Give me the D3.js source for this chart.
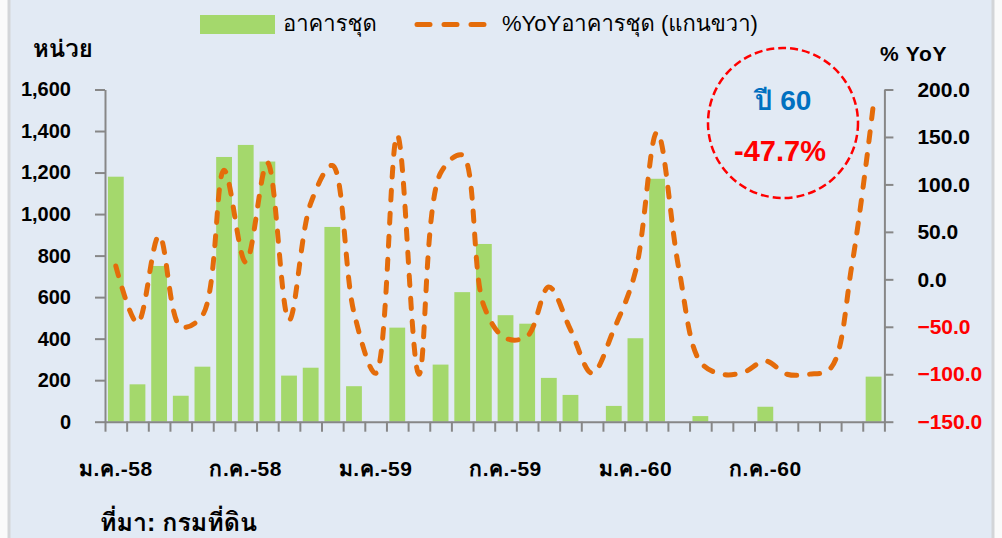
<!DOCTYPE html>
<html>
<head>
<meta charset="utf-8">
<script src="https://cdn.jsdelivr.net/npm/d3@7"></script>
<style>
  body { margin: 0; background: #fafafa; }
  svg { display: block; font-family: "Liberation Sans", Arial, Tahoma, Loma, Garuda, "Noto Sans Thai Looped", "Noto Sans Thai", "Noto Sans", sans-serif; }
</style>
</head>
<body>
<div id="graph"></div>
<script>
// categories: Jan-58 .. Dec-60
const monthNames = ['ม.ค.', 'ก.พ.', 'มี.ค.', 'เม.ย.', 'พ.ค.', 'มิ.ย.', 'ก.ค.', 'ส.ค.', 'ก.ย.', 'ต.ค.', 'พ.ย.', 'ธ.ค.'];
const years = ['58', '59', '60'];
const months = [];
years.forEach(y => monthNames.forEach(m => months.push(m + '-' + y)));

// units (left axis)
const units = [1180, 180, 750, 125, 265, 1275, 1333, 1253, 222, 260, 938, 171,
               0, 453, 0, 275, 624, 856, 513, 472, 211, 129, 0, 76,
               402, 1170, 0, 27, 0, 0, 72, 0, 0, 0, 0, 217];

// %YoY (right axis)
const yoy = [14, -46, 46, -50, -38, 115, 18, 123, -43, 80, 120, -35,
             -99, 152, -100, 112, 131, -28, -62, -60, -8, -53, -99, -53,
             8, 155, 12, -87, -100, -98, -86, -100, -100, -94, 15, 186];

const leftTicks = [0, 200, 400, 600, 800, 1000, 1200, 1400, 1600];
const rightTicks = [-150, -100, -50, 0, 50, 100, 150, 200];
const labelMonths = ['ม.ค.-58', 'ก.ค.-58', 'ม.ค.-59', 'ก.ค.-59', 'ม.ค.-60', 'ก.ค.-60'];

const W = 1002, H = 538;
const plotL = 105, plotR = 884.4, plotB = 421.7, plotT = 89.5;

const svg = d3.select('#graph').append('svg')
    .attr('width', W).attr('height', H);

// panel
svg.append('rect')
    .attr('x', 9).attr('y', -3).attr('width', 984).attr('height', 545)
    .attr('fill', '#e2eaf4').attr('stroke', '#d3d5d8').attr('stroke-width', 3);

const x = d3.scaleBand().domain(months).range([plotL, plotR])
    .paddingInner(0.27).paddingOuter(0.135);
const xEdge = d3.scaleLinear().domain([0, months.length]).range([plotL, plotR]);
const yL = d3.scaleLinear().domain([0, 1600]).range([plotB, plotT]);
const yR = d3.scaleLinear().domain([-150, 200]).range([plotB, plotT]);

// bars
svg.append('g').selectAll('rect').data(units.map((v, i) => ({m: months[i], v})))
    .enter().append('rect')
    .attr('x', d => x(d.m))
    .attr('y', d => yL(d.v))
    .attr('width', x.bandwidth())
    .attr('height', d => plotB - yL(d.v))
    .attr('fill', '#a4d86c');

// axes
const axisColor = '#878787';
const leftAxis = svg.append('g').attr('transform', `translate(${plotL},0)`)
    .call(d3.axisLeft(yL).tickValues(leftTicks).tickSize(10).tickSizeOuter(0)
        .tickPadding(24).tickFormat(d3.format(',')));

const rightAxis = svg.append('g').attr('transform', `translate(${plotR},0)`)
    .call(d3.axisRight(yR).tickValues(rightTicks).tickSize(9).tickSizeOuter(0)
        .tickPadding(24).tickFormat(d3.format('.1f')));

const bottomAxis = svg.append('g').attr('transform', `translate(0,${plotB})`)
    .call(d3.axisBottom(xEdge).tickValues(d3.range(0, months.length + 1))
        .tickSize(10).tickSizeOuter(0).tickFormat(''));

const labelAxis = svg.append('g').attr('transform', `translate(0,${plotB})`)
    .call(d3.axisBottom(x).tickValues(labelMonths).tickSize(0).tickPadding(39));
labelAxis.select('.domain').remove();

[leftAxis, rightAxis, bottomAxis].forEach(g => {
    g.select('.domain').attr('stroke', axisColor).attr('stroke-width', 2);
    g.selectAll('.tick line').attr('stroke', axisColor).attr('stroke-width', 2);
});
[leftAxis, rightAxis, labelAxis].forEach(g => {
    g.selectAll('text').attr('font-size', 20).attr('font-weight', 'bold')
        .attr('font-family', null)
        .attr('fill', '#000');
});
rightAxis.selectAll('text').attr('font-size', 21)
    .attr('fill', d => d < 0 ? '#ff0000' : '#000');
labelAxis.selectAll('text').attr('font-size', 21).attr('letter-spacing', 0.5);

// YoY line
const line = d3.line()
    .x((d, i) => x(months[i]) + x.bandwidth() / 2)
    .y(d => yR(d))
    .curve(d3.curveCatmullRom.alpha(0.5));

svg.append('path')
    .datum(yoy)
    .attr('d', line)
    .attr('fill', 'none')
    .attr('stroke', '#e46c0a')
    .attr('stroke-width', 5)
    .attr('stroke-linecap', 'round')
    .attr('stroke-dasharray', '10 13');

// axis titles
svg.append('text').attr('x', 33).attr('y', 57).text('หน่วย')
    .attr('font-size', 24).attr('font-weight', 'bold');
svg.append('text').attr('x', 880).attr('y', 61).text('% YoY')
    .attr('font-size', 21).attr('font-weight', 'bold').attr('letter-spacing', 0.8);

// legend
svg.append('rect').attr('x', 200).attr('y', 15).attr('width', 75).attr('height', 19)
    .attr('fill', '#a4d86c');
svg.append('text').attr('x', 283).attr('y', 31).text('อาคารชุด').attr('font-size', 22);
svg.append('line').attr('x1', 417).attr('x2', 486).attr('y1', 24.5).attr('y2', 24.5)
    .attr('stroke', '#e46c0a').attr('stroke-width', 5).attr('stroke-linecap', 'round')
    .attr('stroke-dasharray', '13 14');
svg.append('text').attr('x', 502).attr('y', 31).text('%YoYอาคารชุด (แกนขวา)').attr('font-size', 22);

// annotation
svg.append('circle').attr('cx', 783).attr('cy', 123).attr('r', 75)
    .attr('fill', 'none').attr('stroke', '#ff0000').attr('stroke-width', 2.5)
    .attr('stroke-dasharray', '8 4');
svg.append('text').attr('x', 783).attr('y', 110).attr('text-anchor', 'middle')
    .text('ปี 60').attr('font-size', 28).attr('font-weight', 'bold').attr('fill', '#0070c0');
svg.append('text').attr('x', 780).attr('y', 161).attr('text-anchor', 'middle')
    .text('-47.7%').attr('font-size', 29).attr('font-weight', 'bold').attr('fill', '#ff0000');

// source
svg.append('text').attr('x', 100).attr('y', 531).text('ที่มา: กรมที่ดิน')
    .attr('font-size', 25).attr('font-weight', 'bold');
</script>
</body>
</html>
